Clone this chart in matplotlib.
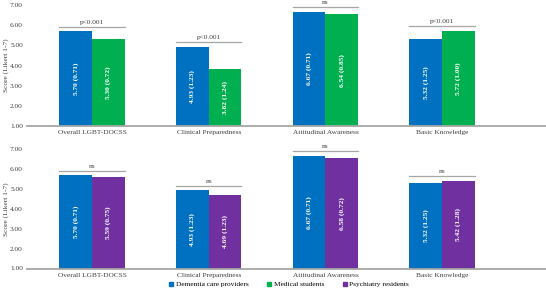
import numpy as np
import matplotlib
matplotlib.use("Agg")
import matplotlib.pyplot as plt

categories = ["Overall LGBT-DOCSS", "Clinical Preparedness", "Attitudinal Awareness", "Basic Knowledge"]

dementia_mean = [5.70, 4.93, 6.67, 5.32]
dementia_sd = [0.71, 1.23, 0.71, 1.25]
medical_mean = [5.30, 3.82, 6.54, 5.72]
medical_sd = [0.72, 1.24, 0.85, 1.00]
psych_mean = [5.59, 4.69, 6.58, 5.42]
psych_sd = [0.75, 1.23, 0.72, 1.28]

sig_top = ["p<0.001", "p<0.001", "ns", "p<0.001"]
sig_bottom = ["ns", "ns", "ns", "ns"]

BLUE = "#0070C0"
GREEN = "#00B050"
PURPLE = "#7030A0"
GRAY = "#A6A6A6"

plt.rcParams["font.family"] = ["Liberation Serif", "DejaVu Serif"]
FS = 5.3

fig = plt.figure(figsize=(5.46, 2.96), dpi=100)
ax_top = fig.add_axes([27 / 546, 170 / 296, 519 / 546, 121 / 296])
ax_bot = fig.add_axes([27 / 546, 27.5 / 296, 519 / 546, 119.2 / 296])

x = np.arange(len(categories))
w = 0.28


def draw_panel(ax, m1, s1, m2, s2, c2, sig):
    ax.bar(x - w / 2, np.array(m1) - 1, w, bottom=1, color=BLUE)
    ax.bar(x + w / 2, np.array(m2) - 1, w, bottom=1, color=c2)
    for i in range(len(x)):
        for xx, m, s in [(x[i] - w / 2, m1[i], s1[i]), (x[i] + w / 2, m2[i], s2[i])]:
            ax.text(xx, (1 + m) / 2, f"{m:.2f} ({s:.2f})", rotation=90, color="white",
                    ha="center", va="center", fontsize=FS, fontweight="bold")
        top = max(m1[i], m2[i]) + 0.22
        ax.plot([x[i] - w, x[i] + w], [top, top], color=GRAY, lw=0.9, clip_on=False)
        ax.text(x[i], top + 0.1, sig[i], ha="center", va="bottom", fontsize=FS,
                color="#404040", clip_on=False)
    ax.set_ylim(1, 7)
    ax.set_xlim(-0.557, 3.89)
    ax.set_yticks(np.arange(1, 8))
    ax.set_yticklabels([f"{v:.2f}" for v in np.arange(1, 8)])
    ax.set_xticks(x)
    ax.set_xticklabels(categories)
    ax.tick_params(length=0, labelsize=FS, colors="#404040", pad=3)
    ax.tick_params(axis="y", pad=3)
    for sp in ["top", "right", "left"]:
        ax.spines[sp].set_visible(False)
    ax.spines["bottom"].set_color(GRAY)
    ax.spines["bottom"].set_linewidth(1.3)
    ax.set_ylabel("Score (Likert 1-7)", fontsize=FS, color="#404040")
    ax.yaxis.set_label_coords(-0.034, 0.5)


draw_panel(ax_top, dementia_mean, dementia_sd, medical_mean, medical_sd, GREEN, sig_top)
draw_panel(ax_bot, dementia_mean, dementia_sd, psych_mean, psych_sd, PURPLE, sig_bottom)

handles = [plt.Line2D([], [], marker="s", ls="", color=c, markersize=3)
           for c in [BLUE, GREEN, PURPLE]]
fig.legend(handles, ["Dementia care providers", "Medical students", "Psychiatry residents"],
           loc="center", bbox_to_anchor=(0.528, 12 / 296), ncol=3, frameon=False,
           fontsize=FS, handletextpad=0.1, columnspacing=2.3, handlelength=1)

fig.savefig("out.png", dpi=100)
